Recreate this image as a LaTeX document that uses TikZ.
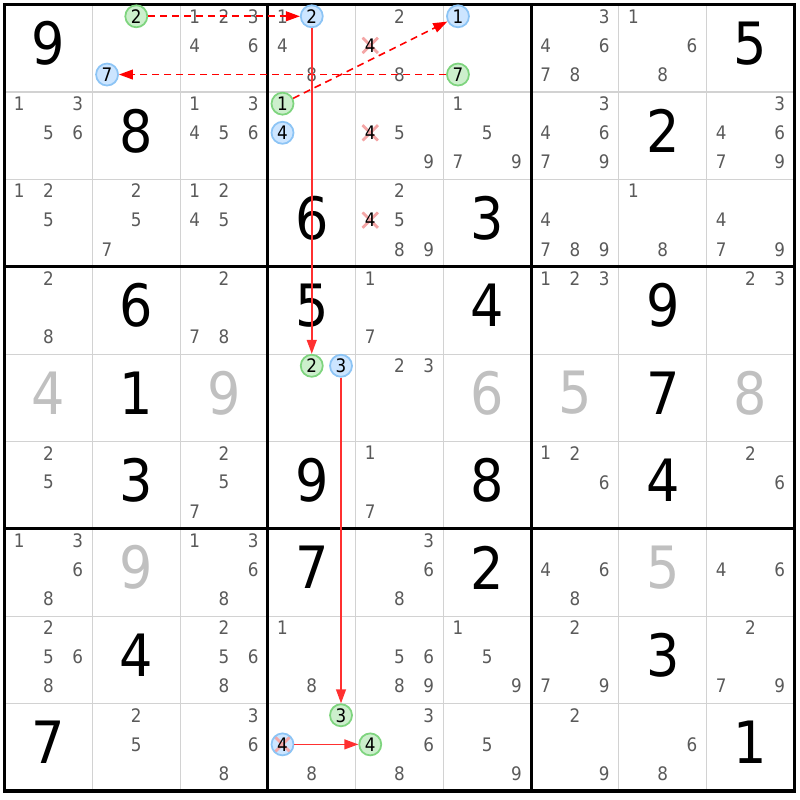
\documentclass[tikz,border=0pt]{standalone}
\usepackage{fontspec}
\usetikzlibrary{arrows.meta}
\newfontfamily\digitfont{DejaVu Sans Condensed}
\newcommand{\candfont}{\digitfont\fontsize{5.3pt}{6pt}\selectfont}
\newcommand{\bigfont}{\digitfont\fontsize{16.6pt}{18pt}\selectfont}
\definecolor{candgray}{HTML}{5A5A5A}
\definecolor{solvedgray}{HTML}{C0C0C0}
\definecolor{onfill}{HTML}{CCEFCC}
\definecolor{ondraw}{HTML}{7ED47E}
\definecolor{offfill}{HTML}{CCE5FF}
\definecolor{offdraw}{HTML}{8CC4F5}
\definecolor{xpink}{HTML}{F4A6A6}
\definecolor{linkred}{HTML}{FF3030}
\tikzset{
	thinline/.style={line width=0.35pt, gray!35},
	boxline/.style={line width=0.85pt, black},
	cand/.style={inner sep=0pt, text=candgray, font=\candfont},
	oncand/.style={cand, circle, minimum size=0.22cm, text=black, fill=onfill, draw=ondraw, line width=0.5pt},
	offcand/.style={cand, circle, minimum size=0.22cm, text=black, fill=offfill, draw=offdraw, line width=0.5pt},
	xcand/.style={cand, circle, minimum size=0.22cm, text=black,
		path picture={
			\draw[xpink, line width=0.8pt] ([shift={(-0.08cm,-0.08cm)}]path picture bounding box.center) -- ([shift={(0.08cm,0.08cm)}]path picture bounding box.center);
			\draw[xpink, line width=0.8pt] ([shift={(-0.08cm,0.08cm)}]path picture bounding box.center) -- ([shift={(0.08cm,-0.08cm)}]path picture bounding box.center);
		}},
	given/.style={inner sep=0pt, font=\bigfont, text=black},
	solved/.style={given, text=solvedgray},
	weaklink/.style={red, line width=0.45pt, dash pattern=on 2pt off 1.4pt, -{Triangle[length=4pt, width=2.8pt]}},
	stronglink/.style={linkred, line width=0.5pt, -{Triangle[length=4pt, width=2.8pt]}}
}
% candidate #4 of cell (row #2, col #3)
\newcommand{\hcand}[4]{%
	\pgfmathtruncatemacro{\subx}{mod(#4-1,3)}%
	\pgfmathtruncatemacro{\suby}{(#4-1)/3}%
	\node[#1] (c#2#3#4) at ({#3+(2*\subx+1)/6}, {#2+(2*\suby+1)/6-0.034}) {#4};}
\begin{document}
\begin{tikzpicture}[x=0.8773cm, y=-0.8737cm]
		\useasboundingbox (-0.0536,-0.0538) rectangle (9.0653,9.1026);
		
		%grid
		\foreach \i in {1,2,4,5,7,8}{
			\draw[thinline] (\i,0)--(\i,9);
			\draw[thinline] (0,\i)--(9,\i);
		}
		\foreach \i in {3,6}{
			\draw[boxline] (\i,0)--(\i,9);
			\draw[boxline] (0,\i)--(9,\i);
		}
		\draw[line width=1pt] (0,0) rectangle (9,9);
		
		%digits
		\foreach \r/\c/\v in {0/0/9, 0/8/5, 1/1/8, 1/7/2, 2/3/6, 2/5/3, 3/1/6, 3/3/5, 3/5/4, 3/7/9, 4/1/1, 4/7/7,
			5/1/3, 5/3/9, 5/5/8, 5/7/4, 6/3/7, 6/5/2, 7/1/4, 7/7/3, 8/0/7, 8/8/1}{
			\node[given] (g\r\c) at (\c+0.5, \r+0.443){\v};
		}
		\foreach \r/\c/\v in {4/0/4, 4/2/9, 4/5/6, 4/6/5, 4/8/8, 6/1/9, 6/7/5}{
			\node[solved] (g\r\c) at (\c+0.5, \r+0.443){\v};
		}
		
		%candidates
		\foreach \r/\c/\l in {0/2/{1,2,3,4,6}, 0/3/{1,4,8}, 0/4/{2,8}, 0/6/{3,4,6,7,8}, 0/7/{1,6,8},
			1/0/{1,3,5,6}, 1/2/{1,3,4,5,6}, 1/4/{5,9}, 1/5/{1,5,7,9}, 1/6/{3,4,6,7,9}, 1/8/{3,4,6,7,9},
			2/0/{1,2,5}, 2/1/{2,5,7}, 2/2/{1,2,4,5}, 2/4/{2,5,8,9}, 2/6/{4,7,8,9}, 2/7/{1,8}, 2/8/{4,7,9},
			3/0/{2,8}, 3/2/{2,7,8}, 3/4/{1,7}, 3/6/{1,2,3}, 3/8/{2,3},
			4/4/{2,3},
			5/0/{2,5}, 5/2/{2,5,7}, 5/4/{1,7}, 5/6/{1,2,6}, 5/8/{2,6},
			6/0/{1,3,6,8}, 6/2/{1,3,6,8}, 6/4/{3,6,8}, 6/6/{4,6,8}, 6/8/{4,6},
			7/0/{2,5,6,8}, 7/2/{2,5,6,8}, 7/3/{1,8}, 7/4/{5,6,8,9}, 7/5/{1,5,9}, 7/6/{2,7,9}, 7/8/{2,7,9},
			8/1/{2,5}, 8/2/{3,6,8}, 8/3/{8}, 8/4/{3,6,8}, 8/5/{5,9}, 8/6/{2,9}, 8/7/{6,8}}{
			\foreach \d in \l{
				\hcand{cand}{\r}{\c}{\d}
			}
		}
		
		%marked candidates
		\hcand{oncand}{0}{1}{2}
		\hcand{offcand}{0}{1}{7}
		\hcand{offcand}{0}{3}{2}
		\hcand{xcand}{0}{4}{4}
		\hcand{offcand}{0}{5}{1}
		\hcand{oncand}{0}{5}{7}
		\hcand{oncand}{1}{3}{1}
		\hcand{offcand}{1}{3}{4}
		\hcand{xcand}{1}{4}{4}
		\hcand{xcand}{2}{4}{4}
		\hcand{oncand}{4}{3}{2}
		\hcand{offcand}{4}{3}{3}
		\hcand{oncand}{8}{3}{3}
		\hcand{offcand, xcand}{8}{3}{4}
		\hcand{oncand}{8}{4}{4}
		
		%chain
		\draw[weaklink] (c012)--(c032);
		\draw[weaklink] (c057)--(c017);
		\draw[weaklink] (c131)--(c051);
		\draw[stronglink] (c032)--(c432);
		\draw[stronglink] (c433)--(c833);
		\draw[stronglink] (c834)--(c844);
\end{tikzpicture}
\end{document}
